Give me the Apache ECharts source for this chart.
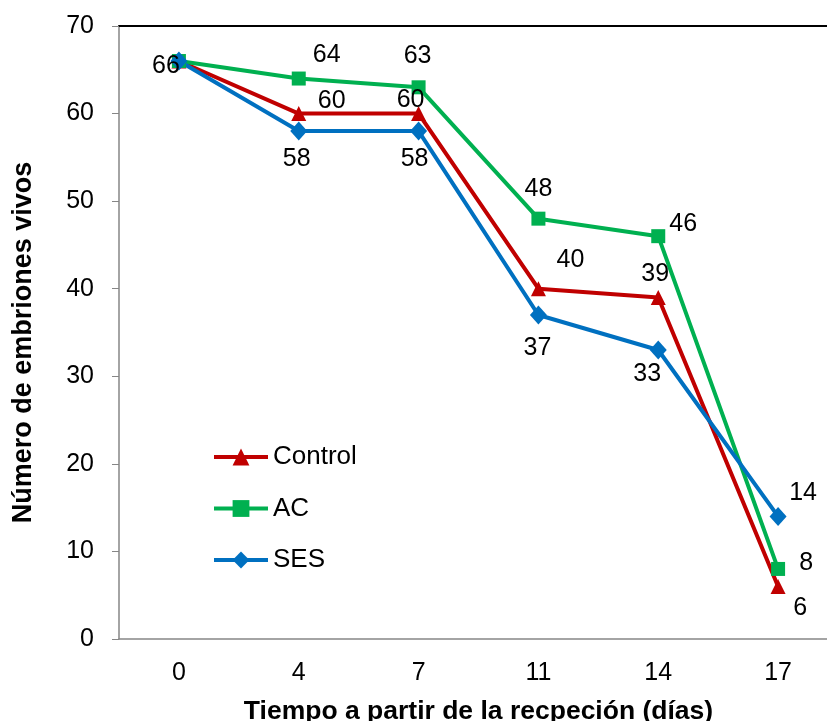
<!DOCTYPE html>
<html>
<head>
<meta charset="utf-8">
<script src="https://cdn.jsdelivr.net/npm/echarts@6/dist/echarts.min.js"></script>
<style>
  html, body { margin: 0; padding: 0; background: #fff; }
  #chart { width: 827px; height: 721px; }
</style>
</head>
<body>
<div id="chart"></div>
<script>
// Days since reception
const days = ['0', '4', '7', '11', '14', '17'];

// Live embryos per treatment
const control = [66, 60, 60, 40, 39, 6];
const ac = [66, 64, 63, 48, 46, 8];
const ses = [66, 58, 58, 37, 33, 14];

// Value label placement (pixel offsets from each point)
const controlLabelOffsets = [null, [33, -12], [-8, -13], [32, -29], [-3, -23], [22, 22]];
const acLabelOffsets = [null, [28, -23], [-1, -31], [0, -30], [25, -12], [28, -6]];
const sesLabelOffsets = [[-13, 5], [-2, 28], [-4, 28], [-1, 33], [-11, 24], [25, -23]];

const font = 'Liberation Sans, Arial, sans-serif';

function points(values, offsets) {
  return values.map((v, i) => {
    const off = offsets[i];
    if (!off) return { value: v, label: { show: false } };
    return { value: v, label: { show: true, position: 'inside', offset: off } };
  });
}

function lineSeries(name, values, offsets, color, symbol, symbolSize) {
  return {
    name: name,
    type: 'line',
    data: points(values, offsets),
    symbol: symbol,
    symbolSize: symbolSize,
    showAllSymbol: true,
    lineStyle: { color: color, width: 4 },
    itemStyle: { color: color },
    label: {
      show: true,
      color: '#000',
      fontFamily: font,
      fontSize: 25
    },
    emphasis: { disabled: true },
    animation: false
  };
}

const chart = echarts.init(document.getElementById('chart'), null, { renderer: 'canvas' });

chart.setOption({
  backgroundColor: '#fff',
  animation: false,
  grid: {
    left: 119, top: 26, right: -11, bottom: 82,
    containLabel: false,
    outerBoundsMode: 'none'
  },
  legend: {
    orient: 'vertical',
    left: 207,
    top: 439,
    itemWidth: 54,
    itemHeight: 21,
    itemGap: 25.5,
    lineStyle: { width: 4 },
    textStyle: { fontFamily: font, fontSize: 26, color: '#000' },
    data: ['Control', 'AC', 'SES']
  },
  xAxis: [
    {
      type: 'category',
      data: days,
      boundaryGap: true,
      axisLine: { show: true, lineStyle: { color: '#868686', width: 1.5 } },
      axisTick: { show: false },
      axisLabel: { color: '#000', fontFamily: font, fontSize: 25, margin: 22 },
      name: 'Tiempo a partir de la recpeción (días)',
      nameLocation: 'middle',
      nameGap: 59,
      nameTextStyle: { fontFamily: font, fontSize: 26.5, fontWeight: 'bold', color: '#000' }
    },
    {
      type: 'category',
      data: days,
      position: 'top',
      axisLine: { show: true, lineStyle: { color: '#000', width: 2 } },
      axisTick: { show: false },
      axisLabel: { show: false }
    }
  ],
  yAxis: {
    type: 'value',
    min: 0,
    max: 70,
    interval: 10,
    axisLine: { show: true, lineStyle: { color: '#868686', width: 1.5 } },
    axisTick: { show: true, inside: false, length: 7, lineStyle: { color: '#868686', width: 1 } },
    splitLine: { show: false },
    axisLabel: { color: '#000', fontFamily: font, fontSize: 25, margin: 25 },
    name: 'Número de embriones vivos',
    nameLocation: 'middle',
    nameGap: 82,
    nameTextStyle: {
      fontFamily: font, fontSize: 27, fontWeight: 'bold', color: '#000',
      padding: [0, 20, 0, 0]
    }
  },
  series: [
    lineSeries('Control', control, controlLabelOffsets, '#C00000', 'triangle', 15),
    lineSeries('AC', ac, acLabelOffsets, '#00B050', 'rect', 14),
    lineSeries('SES', ses, sesLabelOffsets, '#0070C0', 'diamond', [17, 19])
  ]
});
</script>
</body>
</html>
